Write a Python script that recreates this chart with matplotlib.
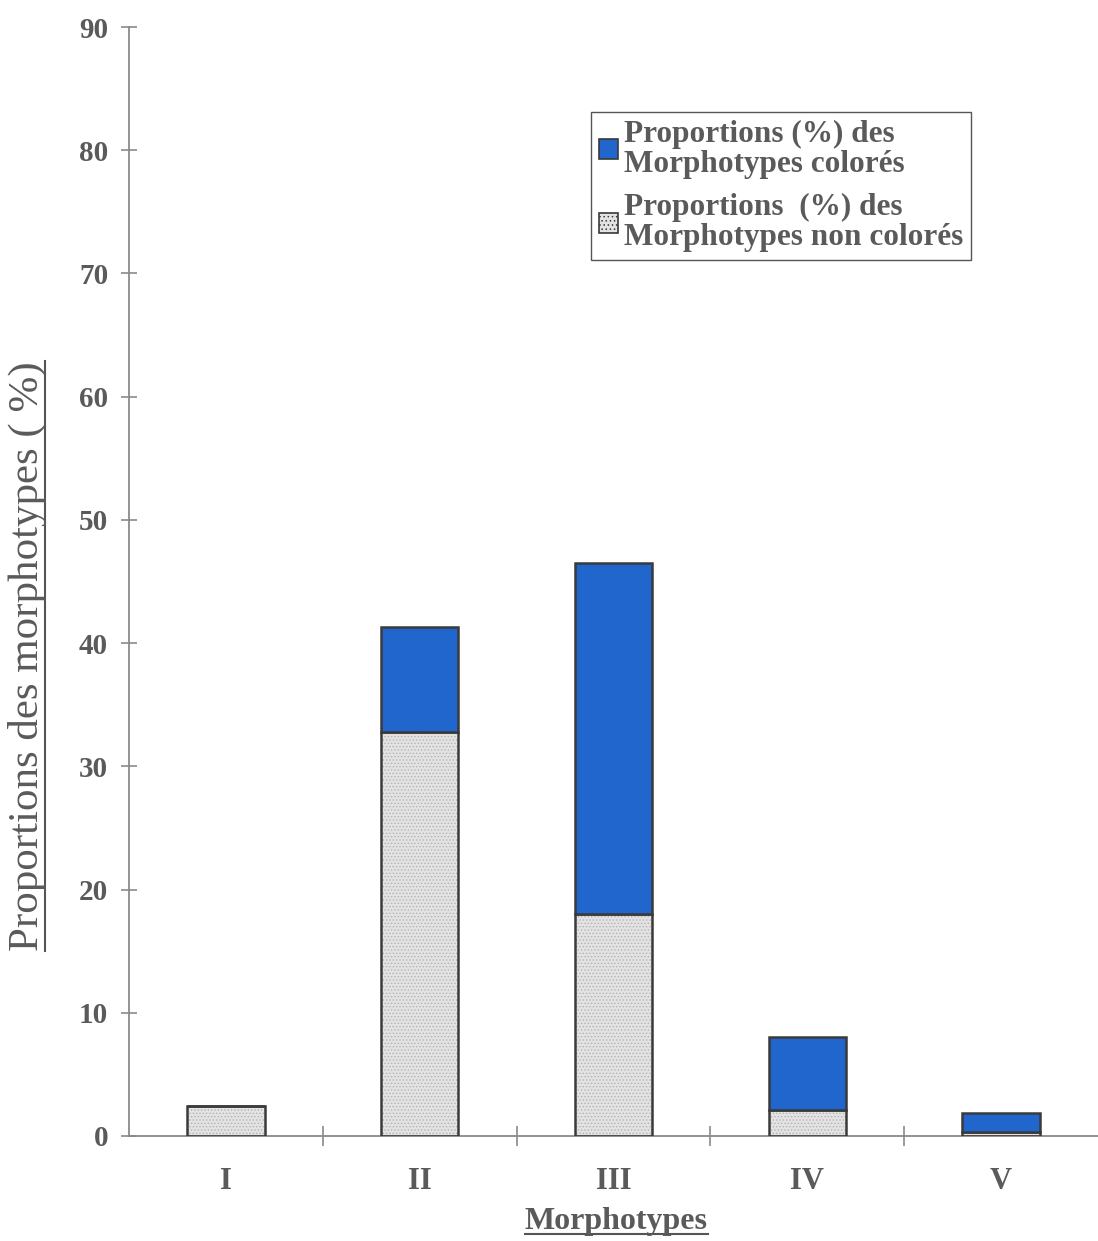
import numpy as np
import matplotlib.pyplot as plt
from matplotlib.patches import Patch
from matplotlib.lines import Line2D

# data
morphotypes = ['I', 'II', 'III', 'IV', 'V']
non_colores = [2.4, 32.8, 18.0, 2.1, 0.3]
colores = [0.0, 8.5, 28.5, 5.9, 1.6]

blue = '#2166cc'
grey_fill = '#e3e3e3'
edge = '#3a3a3a'
txt = '#5a5a5a'
serif = ['Liberation Serif', 'DejaVu Serif']

plt.rcParams['hatch.color'] = '#b3b3b3'
plt.rcParams['hatch.linewidth'] = 0.6

fig = plt.figure(figsize=(10.98, 12.41), dpi=100)
ax = fig.add_axes([129 / 1098, 1 - 1136 / 1241, 1 - 129 / 1098, (1136 - 27) / 1241])

x = np.arange(len(morphotypes))
w = 0.4

# textured light grey part, then outline on top
ax.bar(x, non_colores, w, color=grey_fill, hatch='.....', edgecolor='#b3b3b3',
       linewidth=0, zorder=2)
ax.bar(x, non_colores, w, fill=False, edgecolor=edge, linewidth=1.8, zorder=3)
ax.bar(x, colores, w, bottom=non_colores, color=blue, edgecolor=edge,
       linewidth=1.8, zorder=3)

ax.set_xlim(-0.5, 4.5)
ax.set_ylim(0, 90)
ax.set_yticks(np.arange(0, 91, 10))
ax.set_xticks(x)
ax.set_xticklabels(morphotypes)
ax.set_xticks(np.arange(0.5, 4.5, 1), minor=True)

for s in ['top', 'right']:
    ax.spines[s].set_visible(False)
for s in ['left', 'bottom']:
    ax.spines[s].set_color('#8a8a8a')
    ax.spines[s].set_linewidth(1.3)

ax.tick_params(axis='y', direction='inout', length=12, width=1.2,
               color='#8a8a8a', pad=9, labelsize=21, labelcolor=txt)
ax.tick_params(axis='x', which='major', length=0, pad=22,
               labelsize=22, labelcolor=txt)
ax.tick_params(axis='x', which='minor', direction='inout', length=15,
               width=1.2, color='#8a8a8a')
for lab in ax.get_xticklabels() + ax.get_yticklabels():
    lab.set_family(serif)
    lab.set_fontweight('bold')

# axis titles, underlined
ylab = fig.text(27 / 1098, 1 - 656 / 1241, 'Proportions des morphotypes ( %)',
                rotation=90, ha='center', va='center', fontsize=31,
                family=serif, color=txt)
xlab = fig.text(616 / 1098, 1 - 1221 / 1241, 'Morphotypes', ha='center',
                va='center', fontsize=23, fontweight='bold', family=serif,
                color=txt)

fig.canvas.draw()
r = fig.canvas.get_renderer()
inv = fig.transFigure.inverted()
bb = ylab.get_window_extent(r).transformed(inv)
fig.add_artist(Line2D([bb.x1 - 0.001, bb.x1 - 0.001], [bb.y0, bb.y1],
                      transform=fig.transFigure, color='#555555', lw=1.5))
bb = xlab.get_window_extent(r).transformed(inv)
fig.add_artist(Line2D([bb.x0, bb.x1], [bb.y0 + 0.001, bb.y0 + 0.001],
                      transform=fig.transFigure, color='#555555', lw=1.5))

handles = [Patch(facecolor=blue, edgecolor=edge, linewidth=1.2),
           Patch(facecolor=grey_fill, edgecolor=edge, hatch='....', linewidth=1.2)]
labels = ['Proportions (%) des\nMorphotypes colorés',
          'Proportions  (%) des\nMorphotypes non colorés']
leg = ax.legend(handles, labels, loc='upper left',
                bbox_to_anchor=(591 / 1098, 1 - 112 / 1241),
                bbox_transform=fig.transFigure, fancybox=False, framealpha=1,
                edgecolor='#555555', handlelength=0.6, handleheight=0.6,
                handletextpad=0.2, borderpad=0.25, labelspacing=0.45,
                borderaxespad=0,
                prop={'family': serif, 'weight': 'bold', 'size': 22.5})
leg.get_frame().set_linewidth(1.0)
for t in leg.get_texts():
    t.set_color(txt)
    t.set_linespacing(1.05)

fig.savefig('out.png', dpi=100)
